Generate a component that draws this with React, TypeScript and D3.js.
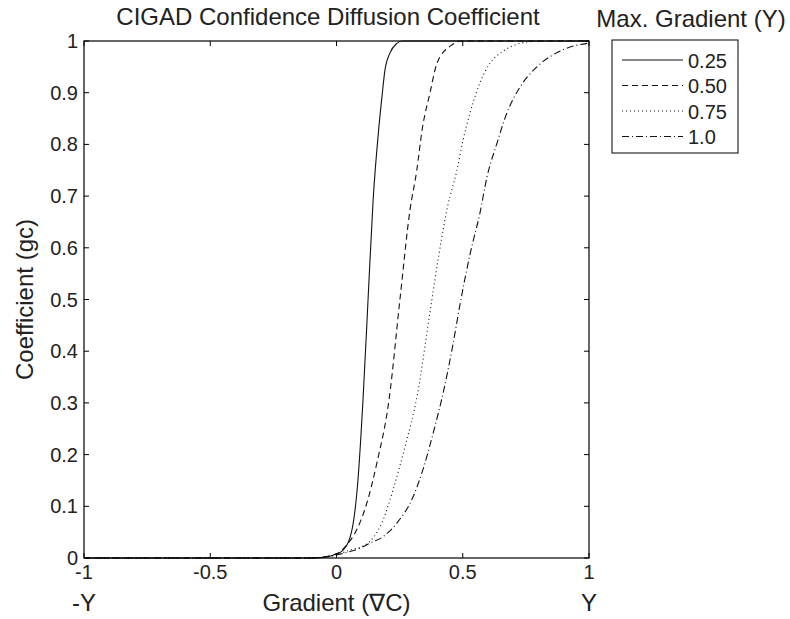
import React from "react";
import * as d3 from "d3";

const seriesLabels = ["0.25", "0.50", "0.75", "1.0"];
const seriesDash = ["none", "6,4", "1,3", "7,3,1,3"];

const s025: [number, number][] = [
  [-1, 0], [-0.1, 0], [-0.03, 0.003], [0, 0.008], [0.026, 0.015], [0.061, 0.054],
  [0.085, 0.151], [0.105, 0.306], [0.125, 0.5], [0.145, 0.692], [0.168, 0.834],
  [0.18, 0.892], [0.192, 0.944], [0.212, 0.977], [0.238, 0.995], [0.261, 1.0], [1, 1],
];
const s050: [number, number][] = [
  [-1, 0], [-0.1, 0], [0, 0.008], [0.04, 0.025], [0.073, 0.048], [0.12, 0.106],
  [0.16, 0.184], [0.208, 0.306], [0.251, 0.499], [0.291, 0.673], [0.318, 0.75],
  [0.339, 0.828], [0.37, 0.899], [0.398, 0.957], [0.45, 0.99], [0.5, 1.0], [1, 1],
];
const s075: [number, number][] = [
  [-1, 0], [-0.1, 0], [0, 0.006], [0.05, 0.015], [0.113, 0.025], [0.145, 0.039],
  [0.18, 0.068], [0.224, 0.132], [0.271, 0.215], [0.32, 0.315], [0.37, 0.475],
  [0.405, 0.585], [0.44, 0.68], [0.477, 0.75], [0.501, 0.808], [0.529, 0.861],
  [0.568, 0.919], [0.608, 0.957], [0.659, 0.98], [0.754, 0.998], [0.808, 1.0], [1, 1],
];
const s100: [number, number][] = [
  [-1, 0], [-0.1, 0], [0, 0.006], [0.05, 0.012], [0.093, 0.019], [0.133, 0.029],
  [0.184, 0.041], [0.24, 0.068], [0.303, 0.118], [0.343, 0.172], [0.382, 0.24],
  [0.425, 0.325], [0.46, 0.41], [0.489, 0.49], [0.53, 0.59], [0.568, 0.667],
  [0.596, 0.737], [0.636, 0.803], [0.675, 0.861], [0.727, 0.911], [0.794, 0.95],
  [0.897, 0.983], [1.0, 0.996],
];
const seriesData = [s025, s050, s075, s100];

const xTicks = [-1, -0.5, 0, 0.5, 1];
const xTickLabels = ["-1", "-0.5", "0", "0.5", "1"];
const yTicks = [0, 0.1, 0.2, 0.3, 0.4, 0.5, 0.6, 0.7, 0.8, 0.9, 1];
const yTickLabels = ["0", "0.1", "0.2", "0.3", "0.4", "0.5", "0.6", "0.7", "0.8", "0.9", "1"];

const W = 790, H = 619;
const L = 84, R = 589, T = 41, B = 558;
const FONT = "'Liberation Sans', Arial, Helvetica, sans-serif";
const TXT = "#222";

export default function App() {
  const x = d3.scaleLinear().domain([-1, 1]).range([L, R]);
  const y = d3.scaleLinear().domain([0, 1]).range([B, T]);
  const line = d3.line<[number, number]>()
    .x(d => x(d[0]))
    .y(d => y(d[1]))
    .curve(d3.curveMonotoneX);
  const tk = 5;
  return (
    <svg width={W} height={H} style={{ position: "absolute", left: 0, top: 0, background: "#fff" }}
      fontFamily={FONT}>
      <rect x={0} y={0} width={W} height={H} fill="#fff" />
      {seriesData.map((d, i) => (
        <path key={i} d={line(d) || ""} fill="none" stroke="#111" strokeWidth={1.1}
          strokeDasharray={seriesDash[i]} />
      ))}
      <rect x={L} y={T} width={R - L} height={B - T} fill="none" stroke="#000" strokeWidth={1.2} />
      {xTicks.map((v, i) => (
        <g key={"x" + i}>
          <line x1={x(v)} x2={x(v)} y1={B} y2={B - tk} stroke="#000" />
          <line x1={x(v)} x2={x(v)} y1={T} y2={T + tk} stroke="#000" />
          <text x={x(v)} y={B + 21} textAnchor="middle" fontSize={20} fill={TXT}>{xTickLabels[i]}</text>
        </g>
      ))}
      {yTicks.map((v, i) => (
        <g key={"y" + i}>
          <line x1={L} x2={L + tk} y1={y(v)} y2={y(v)} stroke="#000" />
          <line x1={R} x2={R - tk} y1={y(v)} y2={y(v)} stroke="#000" />
          <text x={L - 6} y={y(v) + 7} textAnchor="end" fontSize={20} fill={TXT}>{yTickLabels[i]}</text>
        </g>
      ))}
      <text x={328} y={25} textAnchor="middle" fontSize={24} fill={TXT}>CIGAD Confidence Diffusion Coefficient</text>
      <text x={(L + R) / 2} y={611} textAnchor="middle" fontSize={24} fill={TXT}>Gradient (∇C)</text>
      <text x={L} y={611} textAnchor="middle" fontSize={24} fill={TXT}>-Y</text>
      <text x={R} y={611} textAnchor="middle" fontSize={24} fill={TXT}>Y</text>
      <text transform={`translate(33,${(T + B) / 2}) rotate(-90)`} textAnchor="middle" fontSize={24} fill={TXT}>Coefficient (gc)</text>
      <text x={691} y={27} textAnchor="middle" fontSize={24} fill={TXT}>Max. Gradient (Y)</text>
      <rect x={612} y={40} width={126} height={113} fill="#fff" stroke="#000" strokeWidth={1} />
      {seriesLabels.map((lab, i) => {
        const yy = 60 + i * 25.5;
        return (
          <g key={"lg" + i}>
            <line x1={622} x2={683} y1={yy} y2={yy} stroke="#111" strokeWidth={1.1} strokeDasharray={seriesDash[i]} />
            <text x={688} y={yy + 7.5} fontSize={20} fill={TXT}>{lab}</text>
          </g>
        );
      })}
    </svg>
  );
}
